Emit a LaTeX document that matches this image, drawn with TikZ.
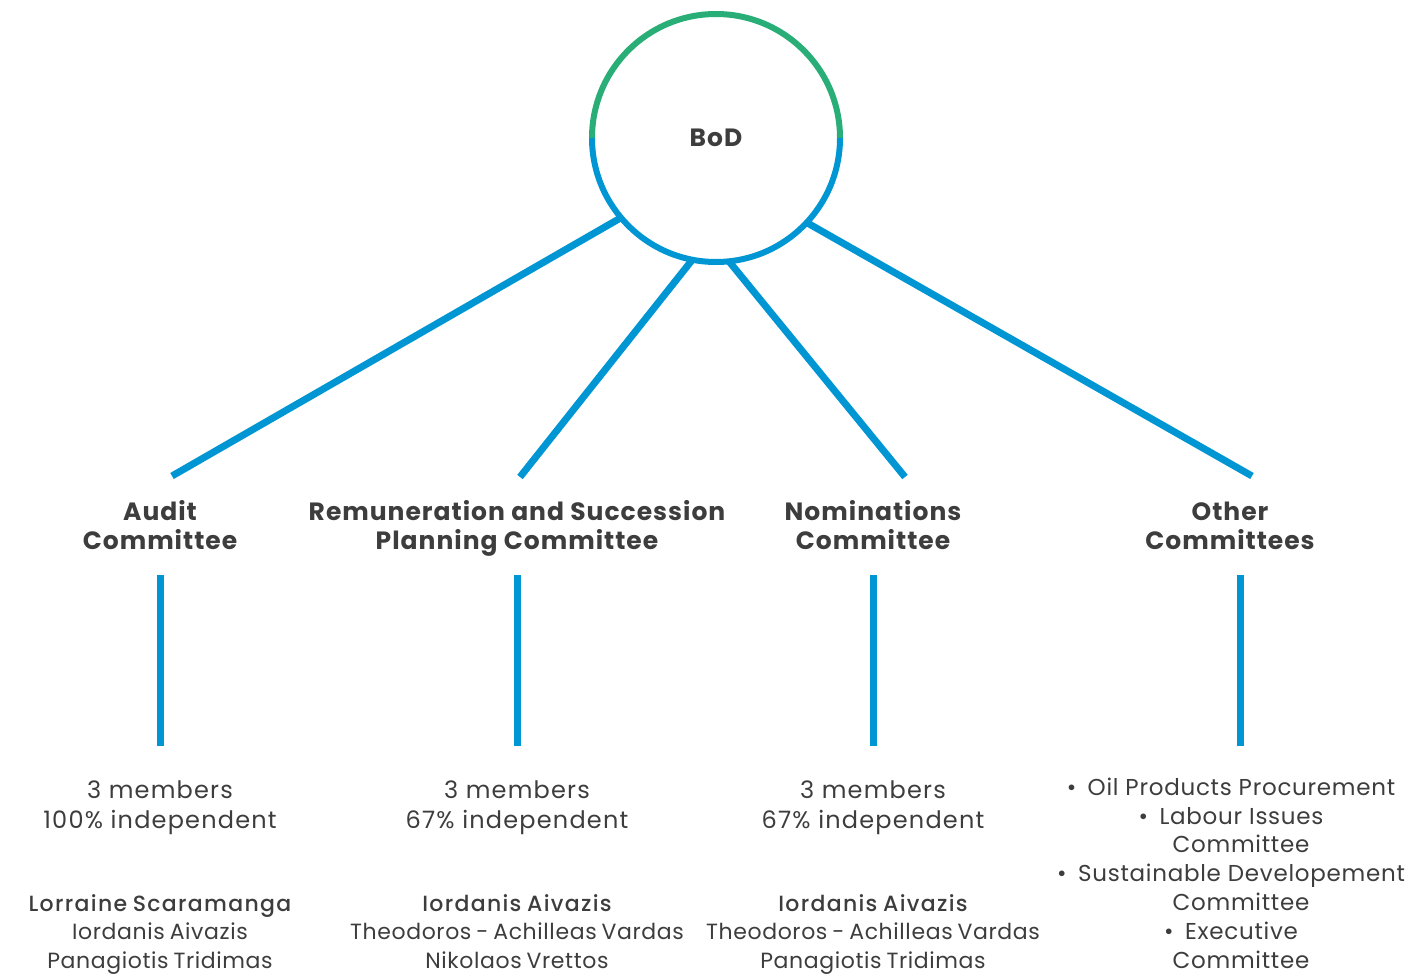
\documentclass[tikz,border=0pt]{standalone}
\usepackage{fontspec}
\setmainfont{Poppins}
\newfontfamily\headfont{Poppins}[LetterSpace=4]
\newfontfamily\bodyfont{Poppins}[LetterSpace=5]
\newfontfamily\listfont{Poppins}[LetterSpace=3.2]
\newfontfamily\namefont{Poppins}[LetterSpace=2.8,WordSpace=0.75]
\newfontfamily\leadfont{Poppins Medium}[LetterSpace=6,WordSpace=0.8]
\definecolor{ringgreen}{HTML}{2AAE78}
\definecolor{lineblue}{HTML}{0096D3}
\definecolor{ink}{HTML}{3D3D3D}
\begin{document}
\begin{tikzpicture}[x=1pt,y=1pt,
  link/.style={draw=lineblue,line width=7pt},
  head/.style={anchor=base,align=center,text=ink,font=\headfont\fontsize{25}{29}\selectfont\bfseries,inner sep=0pt},
  body/.style={anchor=base,align=center,text=ink,font=\bodyfont\fontsize{24}{30}\selectfont,inner sep=0pt},
  names/.style={anchor=base,align=center,text=ink,font=\namefont\fontsize{22}{28.5}\selectfont,inner sep=0pt},
  listing/.style={anchor=base,align=center,text=ink,font=\listfont\fontsize{23}{28.8}\selectfont,inner sep=0pt}]
\useasboundingbox (0,0) rectangle (1425,-974);

% Board of Directors ring
\node[circle,minimum size=248pt,inner sep=0pt,outer sep=0pt,text=ink,
      font=\headfont\fontsize{25}{29}\selectfont\bfseries] (bod) at (716,-138) {BoD};

% connectors from the board to each committee
\coordinate (t1) at (172,-476);
\coordinate (t2) at (520,-477);
\coordinate (t3) at (905,-477);
\coordinate (t4) at (1252,-476);
\draw[link] (bod.220.8) -- (t1);
\draw[link] (bod.259.6) -- (t2);
\draw[link] (bod.276.8) -- (t3);
\draw[link] (bod.317.3) -- (t4);

\draw[ringgreen,line width=6pt] (bod.center) ++(124,0) arc[start angle=0,end angle=180,radius=124];
\draw[lineblue,line width=6pt] (bod.center) ++(-124,0) arc[start angle=180,end angle=360,radius=124];

% committee titles (anchored on the baseline of their last line)
\node[head] (h1) at (160,-549) {Audit\\Committee};
\node[head] (h2) at (517,-549) {Remuneration and Succession\\Planning Committee};
\node[head] (h3) at (873,-549) {Nominations\\Committee};
\node[head] (h4) at (1230,-549) {Other\\Committees};

% vertical stems
\foreach \i/\x in {1/160,2/517,3/873,4/1240}{
  \coordinate (s\i) at (\x,-575);
  \coordinate (e\i) at (\x,-746);
  \draw[link] (s\i) -- (e\i);
}

% composition
\node[body] (c1) at (160,-828) {3 members\\100\% independent};
\node[body] (c2) at (517,-828) {3 members\\67\% independent};
\node[body] (c3) at (873,-828) {3 members\\67\% independent};

% members
\node[names] (m1) at (160,-968) {{\leadfont Lorraine Scaramanga}\\Iordanis Aivazis\\Panagiotis Tridimas};
\node[names] (m2) at (517,-968) {{\leadfont Iordanis Aivazis}\\Theodoros - Achilleas Vardas\\Nikolaos Vrettos};
\node[names] (m3) at (873,-968) {{\leadfont Iordanis Aivazis}\\Theodoros - Achilleas Vardas\\Panagiotis Tridimas};

% other committees list
\node[listing] (l4) at (1231,-968) {\textbullet\enspace Oil Products Procurement\\
  \textbullet\enspace Labour Issues\\
  \hspace*{20pt}Committee\\
  \textbullet\enspace Sustainable Developement\\
  \hspace*{20pt}Committee\\
  \textbullet\enspace Executive\\
  \hspace*{20pt}Committee};
\end{tikzpicture}
\end{document}
